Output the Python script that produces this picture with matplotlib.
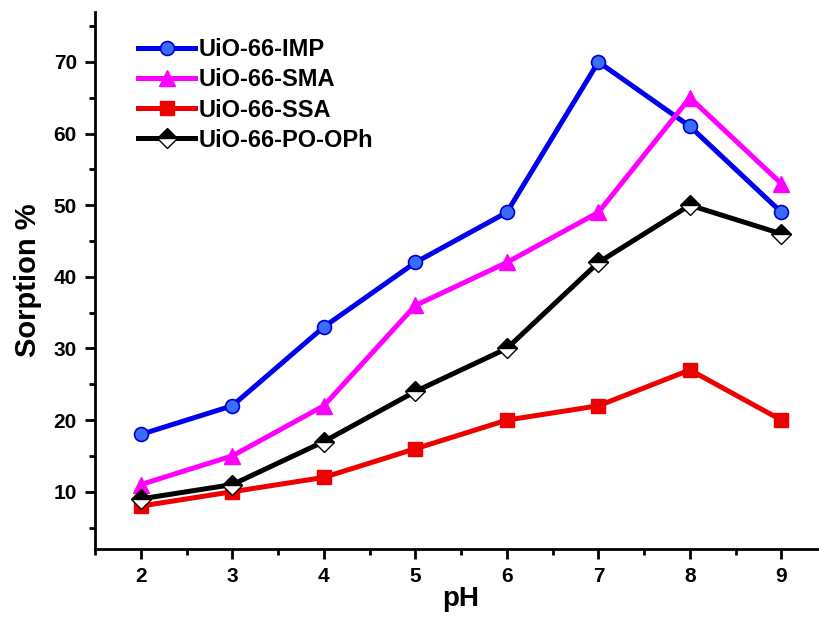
import matplotlib
matplotlib.use('Agg')
import matplotlib.pyplot as plt
from matplotlib.ticker import MultipleLocator

plt.rcParams['font.family'] = ['Liberation Sans', 'DejaVu Sans']
plt.rcParams['font.weight'] = 'bold'

ph = [2, 3, 4, 5, 6, 7, 8, 9]
imp = [18, 22, 33, 42, 49, 70, 61, 49]
sma = [11, 15, 22, 36, 42, 49, 65, 53]
ssa = [8, 10, 12, 16, 20, 22, 27, 20]
pooph = [9, 11, 17, 24, 30, 42, 50, 46]

fig = plt.figure(figsize=(8.19, 6.19), dpi=100)
ax = fig.add_axes([0.116, 0.113, 0.894, 0.868])

lw = 3.6
ax.plot(ph, imp, color='#0000ee', lw=lw, marker='o', ms=10,
        markerfacecolor='#3a6cff', markeredgecolor='#0000cc', mew=1.2, label='UiO-66-IMP')
ax.plot(ph, sma, color='#ff00ff', lw=lw, marker='^', ms=12,
        markerfacecolor='#ff00ff', markeredgecolor='#ff00ff', label='UiO-66-SMA')
ax.plot(ph, ssa, color='#ee0000', lw=lw, marker='s', ms=9.5,
        markerfacecolor='#ee0000', markeredgecolor='#ee0000', label='UiO-66-SSA')
ax.plot(ph, pooph, color='black', lw=lw, marker='D', ms=10, fillstyle='top',
        markerfacecolor='black', markerfacecoloralt='white', markeredgecolor='black',
        mew=1.0, label='UiO-66-PO-OPh')

ax.set_xlim(1.5, 9.5)
ax.set_ylim(2, 77)
ax.xaxis.set_major_locator(MultipleLocator(1))
ax.xaxis.set_minor_locator(MultipleLocator(0.5))
ax.yaxis.set_major_locator(MultipleLocator(10))
ax.yaxis.set_minor_locator(MultipleLocator(5))
ax.set_yticks([10, 20, 30, 40, 50, 60, 70])

for s in ['top', 'right']:
    ax.spines[s].set_visible(False)
for s in ['left', 'bottom']:
    ax.spines[s].set_linewidth(2)

ax.tick_params(which='major', direction='out', length=7, width=2, labelsize=15, pad=6)
ax.tick_params(which='minor', direction='out', length=4, width=2)
ax.set_xlabel('pH', fontsize=20, fontweight='bold', labelpad=0)
ax.set_ylabel('Sorption %', fontsize=21, fontweight='bold', labelpad=8)

ax.legend(loc='upper left', bbox_to_anchor=(0.03, 0.99), frameon=False,
          handlelength=2.4, handletextpad=0.15, labelspacing=0.3,
          prop={'weight': 'bold', 'size': 17})

fig.savefig('out.png', dpi=100)
